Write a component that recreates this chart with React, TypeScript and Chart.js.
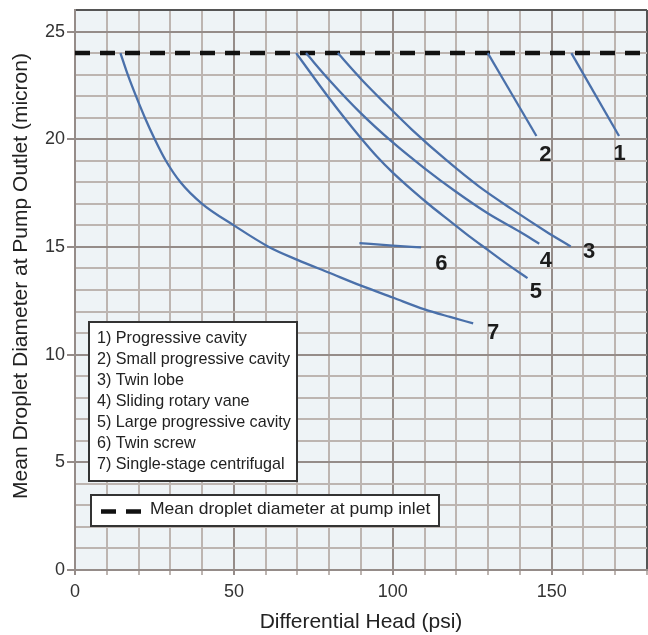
import React, { useEffect, useRef } from 'react';
import { Chart, registerables } from 'chart.js';

Chart.register(...registerables);

const FONT = '"Liberation Sans", Arial, Helvetica, sans-serif';

// Axis tick labels
const xTickLabels = [0, 50, 100, 150];
const yTickLabels = [0, 5, 10, 15, 20, 25];
const xTitle = 'Differential Head (psi)';
const yTitle = 'Mean Droplet Diameter at Pump Outlet (micron)';

// Mean droplet diameter at pump inlet
const inletDiameter = 24;
const inletRangeX = [0, 180];

// Curves (x = differential head psi, y = droplet diameter micron)
const c1x = [156.2, 171.2];
const c1y = [24, 20.15];
const c2x = [129.9, 145.2];
const c2y = [24, 20.15];
const c3x = [82.7, 90, 98, 106, 116.7, 127.2, 137.7, 148.2, 156];
const c3y = [24, 22.8, 21.6, 20.45, 19.05, 17.8, 16.73, 15.72, 15.02];
const c4x = [72.7, 80, 90, 100, 110, 120, 130, 140, 146.1];
const c4y = [24, 22.75, 21.2, 19.85, 18.65, 17.55, 16.55, 15.7, 15.15];
const c5x = [69.6, 75, 80, 85, 90, 95, 100, 106, 112, 118, 124, 130, 136, 142.4];
const c5y = [24, 22.9, 21.9, 20.95, 20.05, 19.2, 18.45, 17.65, 16.9, 16.2, 15.5, 14.85, 14.2, 13.55];
const c6x = [89.5, 100, 108.9];
const c6y = [15.18, 15.06, 14.98];
const c7x = [14.3, 16.6, 19.2, 22.0, 25.1, 28.6, 33.2, 40, 50, 61, 70, 80, 90, 100, 110, 118, 125.3];
const c7y = [24, 23, 22, 21, 20, 19, 18, 17, 16, 15, 14.4, 13.8, 13.2, 12.65, 12.1, 11.75, 11.45];

// Curve number labels (data coordinates)
const curveNames = ['1', '2', '3', '4', '5', '6', '7'];
const labelX = [171.4, 148.0, 161.8, 148.2, 145.0, 115.3, 131.6];
const labelY = [19.3, 19.28, 14.79, 14.33, 12.93, 14.2, 11.0];

const legendItems = [
  '1) Progressive cavity',
  '2) Small progressive cavity',
  '3) Twin lobe',
  '4) Sliding rotary vane',
  '5) Large progressive cavity',
  '6) Twin screw',
  '7) Single-stage centrifugal',
];
const inletLegend = 'Mean droplet diameter at pump inlet';

const curvesX = [c1x, c2x, c3x, c4x, c5x, c6x, c7x];
const curvesY = [c1y, c2y, c3y, c4y, c5y, c6y, c7y];

const CURVE_COLOR = '#4a70aa';
const MINOR = '#bdb5b1';
const MAJOR = '#958c89';
const FRAME = '#555555';

const overlayPlugin = {
  id: 'overlay',
  beforeDraw(chart: any) {
    const { ctx, chartArea } = chart;
    ctx.save();
    ctx.fillStyle = '#eef3f6';
    ctx.fillRect(chartArea.left, chartArea.top, chartArea.right - chartArea.left, chartArea.bottom - chartArea.top);
    ctx.restore();
  },
  afterDatasetsDraw(chart: any) {
    const { ctx, chartArea } = chart;
    const xs = chart.scales.x;
    const ys = chart.scales.y;
    ctx.save();
    // curve labels
    ctx.font = `bold 22px ${FONT}`;
    ctx.fillStyle = '#1c1c1c';
    ctx.textAlign = 'center';
    ctx.textBaseline = 'middle';
    curveNames.forEach((n, i) => {
      ctx.fillText(n, xs.getPixelForValue(labelX[i]), ys.getPixelForValue(labelY[i]));
    });

    // legend box 1
    const bx = chartArea.left + 14;
    const by = chartArea.top + 312;
    const bw = 208;
    const bh = 159;
    ctx.fillStyle = '#ffffff';
    ctx.fillRect(bx, by, bw, bh);
    ctx.strokeStyle = '#333333';
    ctx.lineWidth = 2;
    ctx.strokeRect(bx, by, bw, bh);
    ctx.fillStyle = '#222222';
    ctx.font = `17px ${FONT}`;
    ctx.textAlign = 'left';
    ctx.textBaseline = 'middle';
    legendItems.forEach((t, i) => {
      ctx.save();
      ctx.translate(bx + 8, by + 16.5 + i * 21);
      ctx.scale(0.95, 1);
      ctx.fillText(t, 0, 0);
      ctx.restore();
    });

    // legend box 2
    const b2x = chartArea.left + 16;
    const b2y = chartArea.top + 485;
    const b2w = 348;
    const b2h = 31;
    ctx.fillStyle = '#ffffff';
    ctx.fillRect(b2x, b2y, b2w, b2h);
    ctx.strokeStyle = '#333333';
    ctx.lineWidth = 2;
    ctx.strokeRect(b2x, b2y, b2w, b2h);
    ctx.strokeStyle = '#111111';
    ctx.lineWidth = 4.5;
    ctx.beginPath();
    ctx.moveTo(b2x + 10, b2y + 16.5);
    ctx.lineTo(b2x + 25, b2y + 16.5);
    ctx.moveTo(b2x + 35, b2y + 16.5);
    ctx.lineTo(b2x + 50, b2y + 16.5);
    ctx.stroke();
    ctx.fillStyle = '#222222';
    ctx.save();
    ctx.translate(b2x + 59, b2y + 14.5);
    ctx.scale(1.03, 1);
    ctx.fillText(inletLegend, 0, 0);
    ctx.restore();

    // y axis title
    ctx.save();
    ctx.font = `21px ${FONT}`;
    ctx.fillStyle = '#222222';
    ctx.textAlign = 'center';
    ctx.textBaseline = 'middle';
    ctx.translate(21.5, chartArea.top + 266);
    ctx.rotate(-Math.PI / 2);
    ctx.fillText(yTitle, 0, 0);
    ctx.restore();

    ctx.restore();
  },
};

export default function App() {
  const ref = useRef<HTMLCanvasElement | null>(null);

  useEffect(() => {
    if (!ref.current) return;
    const datasets: any[] = curvesX.map((xs, i) => ({
      label: curveNames[i],
      data: xs.map((x, j) => ({ x, y: curvesY[i][j] })),
      borderColor: CURVE_COLOR,
      borderWidth: 2.3,
      pointRadius: 0,
      fill: false,
      cubicInterpolationMode: 'monotone',
    }));
    datasets.push({
      label: 'inlet',
      data: inletRangeX.map((x) => ({ x, y: inletDiameter })),
      borderColor: '#111111',
      borderWidth: 4.5,
      borderDash: [15, 10],
      borderCapStyle: 'butt',
      pointRadius: 0,
      fill: false,
    });

    const chart = new Chart(ref.current, {
      type: 'line',
      data: { datasets },
      plugins: [overlayPlugin],
      options: {
        animation: false,
        responsive: false,
        devicePixelRatio: 1,
        layout: { padding: { top: 10, right: 1, left: 0, bottom: 0 } },
        plugins: { legend: { display: false }, tooltip: { enabled: false } },
        scales: {
          x: {
            type: 'linear',
            min: 0,
            max: 180,
            afterFit: (s: any) => {
              s.height = 65;
            },
            ticks: {
              stepSize: 10,
              autoSkip: false,
              maxRotation: 0,
              padding: 0,
              color: '#333333',
              font: { family: FONT, size: 18, lineHeight: 1.9 },
              callback: (v: any) => (xTickLabels.includes(Number(v)) ? String(v) : ''),
            },
            grid: {
              lineWidth: 2,
              tickLength: 5,
              color: (c: any) => {
                const v = c.tick ? c.tick.value : 0;
                if (v === 180) return FRAME;
                return v % 50 === 0 ? MAJOR : MINOR;
              },
              tickColor: (c: any) => {
                const v = c.tick ? c.tick.value : 0;
                return v % 50 === 0 ? MAJOR : MINOR;
              },
            },
            border: { display: true, color: MAJOR, width: 2 },
            title: {
              display: true,
              text: xTitle,
              color: '#222222',
              font: { family: FONT, size: 21 },
              padding: { top: 0, bottom: 0 },
            },
          },
          y: {
            type: 'linear',
            min: 0,
            max: 26,
            afterFit: (s: any) => {
              s.width = 75;
            },
            ticks: {
              stepSize: 1,
              autoSkip: false,
              padding: 2,
              color: '#333333',
              font: { family: FONT, size: 18, lineHeight: 0.8 },
              callback: (v: any) => (yTickLabels.includes(Number(v)) ? String(v) : ''),
            },
            grid: {
              lineWidth: 2,
              tickLength: 8,
              color: (c: any) => {
                const v = c.tick ? c.tick.value : 0;
                if (v === 26) return FRAME;
                return v % 5 === 0 ? MAJOR : MINOR;
              },
              tickColor: (c: any) => {
                const v = c.tick ? c.tick.value : 0;
                return v % 5 === 0 ? MAJOR : 'rgba(0,0,0,0)';
              },
            },
            border: { display: true, color: MAJOR, width: 2 },
            title: { display: false },
          },
        },
      } as any,
    });
    return () => chart.destroy();
  }, []);

  return (
    <div style={{ position: 'fixed', left: 0, top: 0, width: 648, height: 635, background: '#ffffff' }}>
      <canvas ref={ref} width={648} height={635} style={{ display: 'block' }} />
    </div>
  );
}
